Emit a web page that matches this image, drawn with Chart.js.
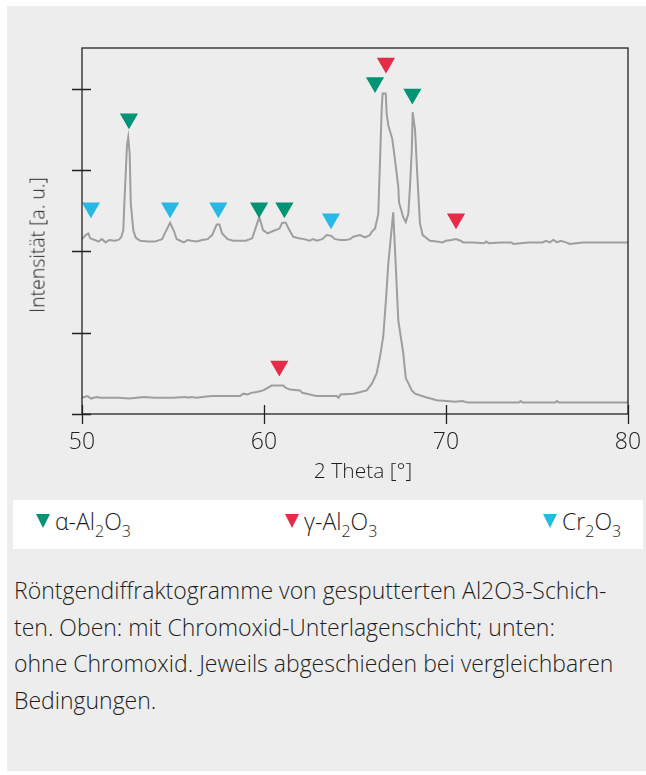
<!DOCTYPE html>
<html>
<head>
<meta charset="utf-8">
<script src="https://cdn.jsdelivr.net/npm/chart.js@4"></script>
<style>
  html, body { margin: 0; padding: 0; background: #fff; }
  body { width: 646px; height: 775px; position: relative; overflow: hidden; font-family: 'Open Sans', 'Noto Sans', sans-serif; font-weight: 300; color: #1e1e1e; }
  .panel { position: absolute; left: 7px; top: 6px; right: 0; bottom: 4px; background: #ededed; }
  .chart-box { position: absolute; left: 0; top: 0; width: 646px; height: 495px; }
  .ytitle { position: absolute; left: 37px; top: 245px; transform: translate(-50%, -50%) rotate(-90deg); font-size: 19.5px; white-space: nowrap; }
  .xtitle { position: absolute; left: 363px; top: 470px; transform: translate(-50%, -50%); font-size: 21px; white-space: nowrap; }
  .legend { position: absolute; left: 13px; top: 500px; width: 630px; height: 49px; background: #fff; font-size: 23px; }
  .legend .item { position: absolute; top: 5px; white-space: nowrap; }
  .legend .tri { display: inline-block; width: 0; height: 0; border-left: 7px solid transparent; border-right: 7px solid transparent; border-top: 14px solid; margin-right: 5px; vertical-align: 2px; }
  .legend sub { font-size: 16px; vertical-align: -7px; line-height: 0; }
  .caption { position: absolute; left: 14px; top: 572px; width: 632px; font-size: 23px; line-height: 36.5px; }
</style>
</head>
<body>
<div class="panel"></div>
<div class="chart-box"><canvas id="xrd"></canvas></div>
<div class="ytitle">Intensität [a. u.]</div>
<div class="xtitle">2 Theta [°]</div>
<div class="legend">
  <div class="item" style="left:23px"><span class="tri" style="border-top-color:#009474"></span>α-Al<sub>2</sub>O<sub>3</sub></div>
  <div class="item" style="left:272px"><span class="tri" style="border-top-color:#e52b48"></span>γ-Al<sub>2</sub>O<sub>3</sub></div>
  <div class="item" style="left:530px"><span class="tri" style="border-top-color:#27b8e3"></span>Cr<sub>2</sub>O<sub>3</sub></div>
</div>
<div class="caption">Röntgendiffraktogramme von gesputterten Al2O3-Schich-<br>ten. Oben: mit Chromoxid-Unterlagenschicht; unten:<br>ohne Chromoxid. Jeweils abgeschieden bei vergleichbaren<br>Bedingungen.</div>

<script>
// 2 Theta values and intensities
const upperTheta = [50.0, 50.2, 50.35, 50.45, 50.7, 50.9, 51.1, 51.3, 51.5, 51.8, 52.0, 52.15, 52.27, 52.33, 52.47, 52.54, 52.62, 52.68, 52.82, 52.95,
  53.2, 53.6, 54.0, 54.4, 54.55, 54.84, 55.05, 55.2, 55.4, 55.6, 55.8, 56.0, 56.3, 56.6, 56.9, 57.15, 57.4, 57.55, 57.7, 58.0,
  58.3, 58.7, 59.0, 59.35, 59.74, 59.95, 60.2, 60.5, 60.85, 61.0, 61.2, 61.35, 61.6, 61.9, 62.2, 62.5, 62.7, 62.9, 63.2, 63.44,
  63.7, 63.9, 64.2, 64.5, 64.73, 64.91, 65.27, 65.55, 65.82, 65.92, 66.1, 66.28, 66.47, 66.52, 66.69, 66.74, 66.83, 67.05, 67.2, 67.38,
  67.42, 67.65, 67.79, 67.93, 68.02, 68.12, 68.17, 68.3, 68.42, 68.57, 68.72, 69.12, 69.5, 69.8, 70.0, 70.3, 70.55, 70.8, 70.95, 71.5,
  72.1, 72.2, 72.35, 73.0, 73.6, 73.7, 74.5, 75.3, 75.5, 75.7, 75.9, 76.1, 76.3, 76.6, 76.8, 77.5, 80.0];
const upperInt = [2.15, 2.20, 2.22, 2.16, 2.14, 2.12, 2.15, 2.11, 2.14, 2.13, 2.14, 2.17, 2.26, 2.60, 3.30, 3.40, 3.20, 2.59, 2.26, 2.17,
  2.13, 2.12, 2.12, 2.15, 2.22, 2.35, 2.25, 2.15, 2.13, 2.11, 2.14, 2.13, 2.12, 2.14, 2.15, 2.20, 2.33, 2.33, 2.22, 2.15,
  2.13, 2.13, 2.13, 2.16, 2.42, 2.26, 2.22, 2.25, 2.28, 2.35, 2.35, 2.28, 2.18, 2.16, 2.15, 2.13, 2.15, 2.13, 2.15, 2.20,
  2.19, 2.15, 2.14, 2.14, 2.15, 2.18, 2.20, 2.17, 2.20, 2.24, 2.28, 2.46, 3.77, 3.94, 3.94, 3.69, 3.55, 3.38, 3.12, 2.79,
  2.60, 2.42, 2.36, 2.46, 2.79, 3.24, 3.71, 3.49, 2.95, 2.34, 2.20, 2.13, 2.12, 2.11, 2.13, 2.14, 2.15, 2.13, 2.11, 2.11,
  2.10, 2.12, 2.10, 2.11, 2.11, 2.09, 2.11, 2.11, 2.13, 2.11, 2.14, 2.11, 2.13, 2.11, 2.09, 2.11, 2.11];

const lowerTheta = [50.0, 50.3, 50.5, 50.8, 51.0, 52.0, 52.6, 53.0, 53.4, 54.0, 55.0, 55.7, 55.8, 56.0, 56.3, 56.6, 57.13, 58.0, 58.68, 58.86,
  59.1, 59.3, 59.6, 59.96, 60.42, 61.06, 61.2, 61.43, 61.98, 62.1, 62.35, 62.9, 63.5, 63.99, 64.1, 64.2, 64.91, 65.3, 65.64, 65.92,
  66.19, 66.37, 66.55, 66.7, 66.83, 67.1, 67.25, 67.38, 67.65, 67.79, 67.93, 68.12, 68.3, 68.85, 69.49, 70.04, 70.5, 70.9, 71.2, 72.24,
  74.0, 74.1, 74.2, 76.0, 76.1, 76.2, 80.0];
const lowerInt = [0.20, 0.22, 0.19, 0.21, 0.20, 0.20, 0.19, 0.20, 0.21, 0.20, 0.20, 0.21, 0.20, 0.21, 0.20, 0.21, 0.22, 0.22, 0.22, 0.25,
  0.24, 0.26, 0.27, 0.29, 0.35, 0.35, 0.32, 0.30, 0.29, 0.26, 0.25, 0.22, 0.22, 0.22, 0.20, 0.24, 0.25, 0.27, 0.29, 0.37,
  0.50, 0.70, 0.95, 1.40, 1.85, 2.48, 1.77, 1.15, 0.75, 0.44, 0.38, 0.29, 0.25, 0.21, 0.17, 0.16, 0.15, 0.16, 0.14, 0.14,
  0.14, 0.16, 0.14, 0.14, 0.16, 0.14, 0.14];

// peak markers (position of the triangle)
const alphaTheta = [52.58, 59.73, 61.12, 66.10, 68.15];
const alphaInt = [3.63, 2.535, 2.535, 4.077, 3.935];
const gammaTheta = [66.70, 70.55, 60.84];
const gammaInt = [4.315, 2.401, 0.589];
const crTheta = [50.49, 54.84, 57.49, 63.68];
const crInt = [2.535, 2.535, 2.535, 2.401];

const xTicks = [50, 60, 70, 80];
const yTicks = [0, 1, 2, 3, 4];

const pts = (xs, ys) => xs.map((x, i) => ({ x: x, y: ys[i] }));

const lineStyle = { borderColor: '#9e9e9e', borderWidth: 2, pointRadius: 0, tension: 0, fill: false };
const marker = color => ({ type: 'scatter', pointStyle: 'triangle', rotation: 180, radius: 10, pointRadius: 10.5,
  backgroundColor: color, borderColor: color, borderWidth: 0, showLine: false });

// frame + ticks that cross the axis lines
const framePlugin = {
  id: 'frame',
  afterDatasetsDraw(chart) {
    const { ctx, chartArea: a, scales } = chart;
    ctx.save();
    ctx.strokeStyle = '#222';
    ctx.lineWidth = 1.3;
    ctx.strokeRect(a.left, a.top, a.right - a.left, a.bottom - a.top);
    ctx.beginPath();
    yTicks.forEach(v => {
      const y = Math.round(scales.y.getPixelForValue(v)) + 0.5;
      ctx.moveTo(a.left - 10, y); ctx.lineTo(a.left + 9, y);
    });
    xTicks.forEach(v => {
      const x = Math.round(scales.x.getPixelForValue(v)) + 0.5;
      ctx.moveTo(x, a.bottom - 9); ctx.lineTo(x, a.bottom + 10);
    });
    ctx.stroke();
    ctx.restore();
  }
};

new Chart(document.getElementById('xrd'), {
  type: 'line',
  data: {
    datasets: [
      Object.assign({ data: pts(alphaTheta, alphaInt) }, marker('#009474')),
      Object.assign({ data: pts(gammaTheta, gammaInt) }, marker('#e52b48')),
      Object.assign({ data: pts(crTheta, crInt) }, marker('#27b8e3')),
      Object.assign({ data: pts(upperTheta, upperInt) }, lineStyle),
      Object.assign({ data: pts(lowerTheta, lowerInt) }, lineStyle)
    ]
  },
  options: {
    responsive: true,
    maintainAspectRatio: false,
    animation: false,
    layout: { padding: { top: 48, right: 18, left: 0, bottom: 0 } },
    plugins: { legend: { display: false }, tooltip: { enabled: false } },
    scales: {
      x: {
        type: 'linear', min: 50, max: 80,
        afterBuildTicks: s => { s.ticks = xTicks.map(v => ({ value: v })); },
        afterFit: s => { s.height = 81; s.paddingLeft = 0; s.paddingRight = 0; },
        grid: { display: false, drawTicks: false },
        border: { display: false },
        ticks: { color: '#1e1e1e', padding: 15, maxRotation: 0, font: { family: 'Open Sans', size: 23, weight: '300' } }
      },
      y: {
        min: 0, max: 4.5,
        afterBuildTicks: s => { s.ticks = yTicks.map(v => ({ value: v })); },
        afterFit: s => { s.width = 82; s.paddingTop = 0; s.paddingBottom = 0; },
        grid: { display: false, drawTicks: false },
        border: { display: false },
        ticks: { display: false }
      }
    }
  },
  plugins: [framePlugin]
});
</script>
</body>
</html>
